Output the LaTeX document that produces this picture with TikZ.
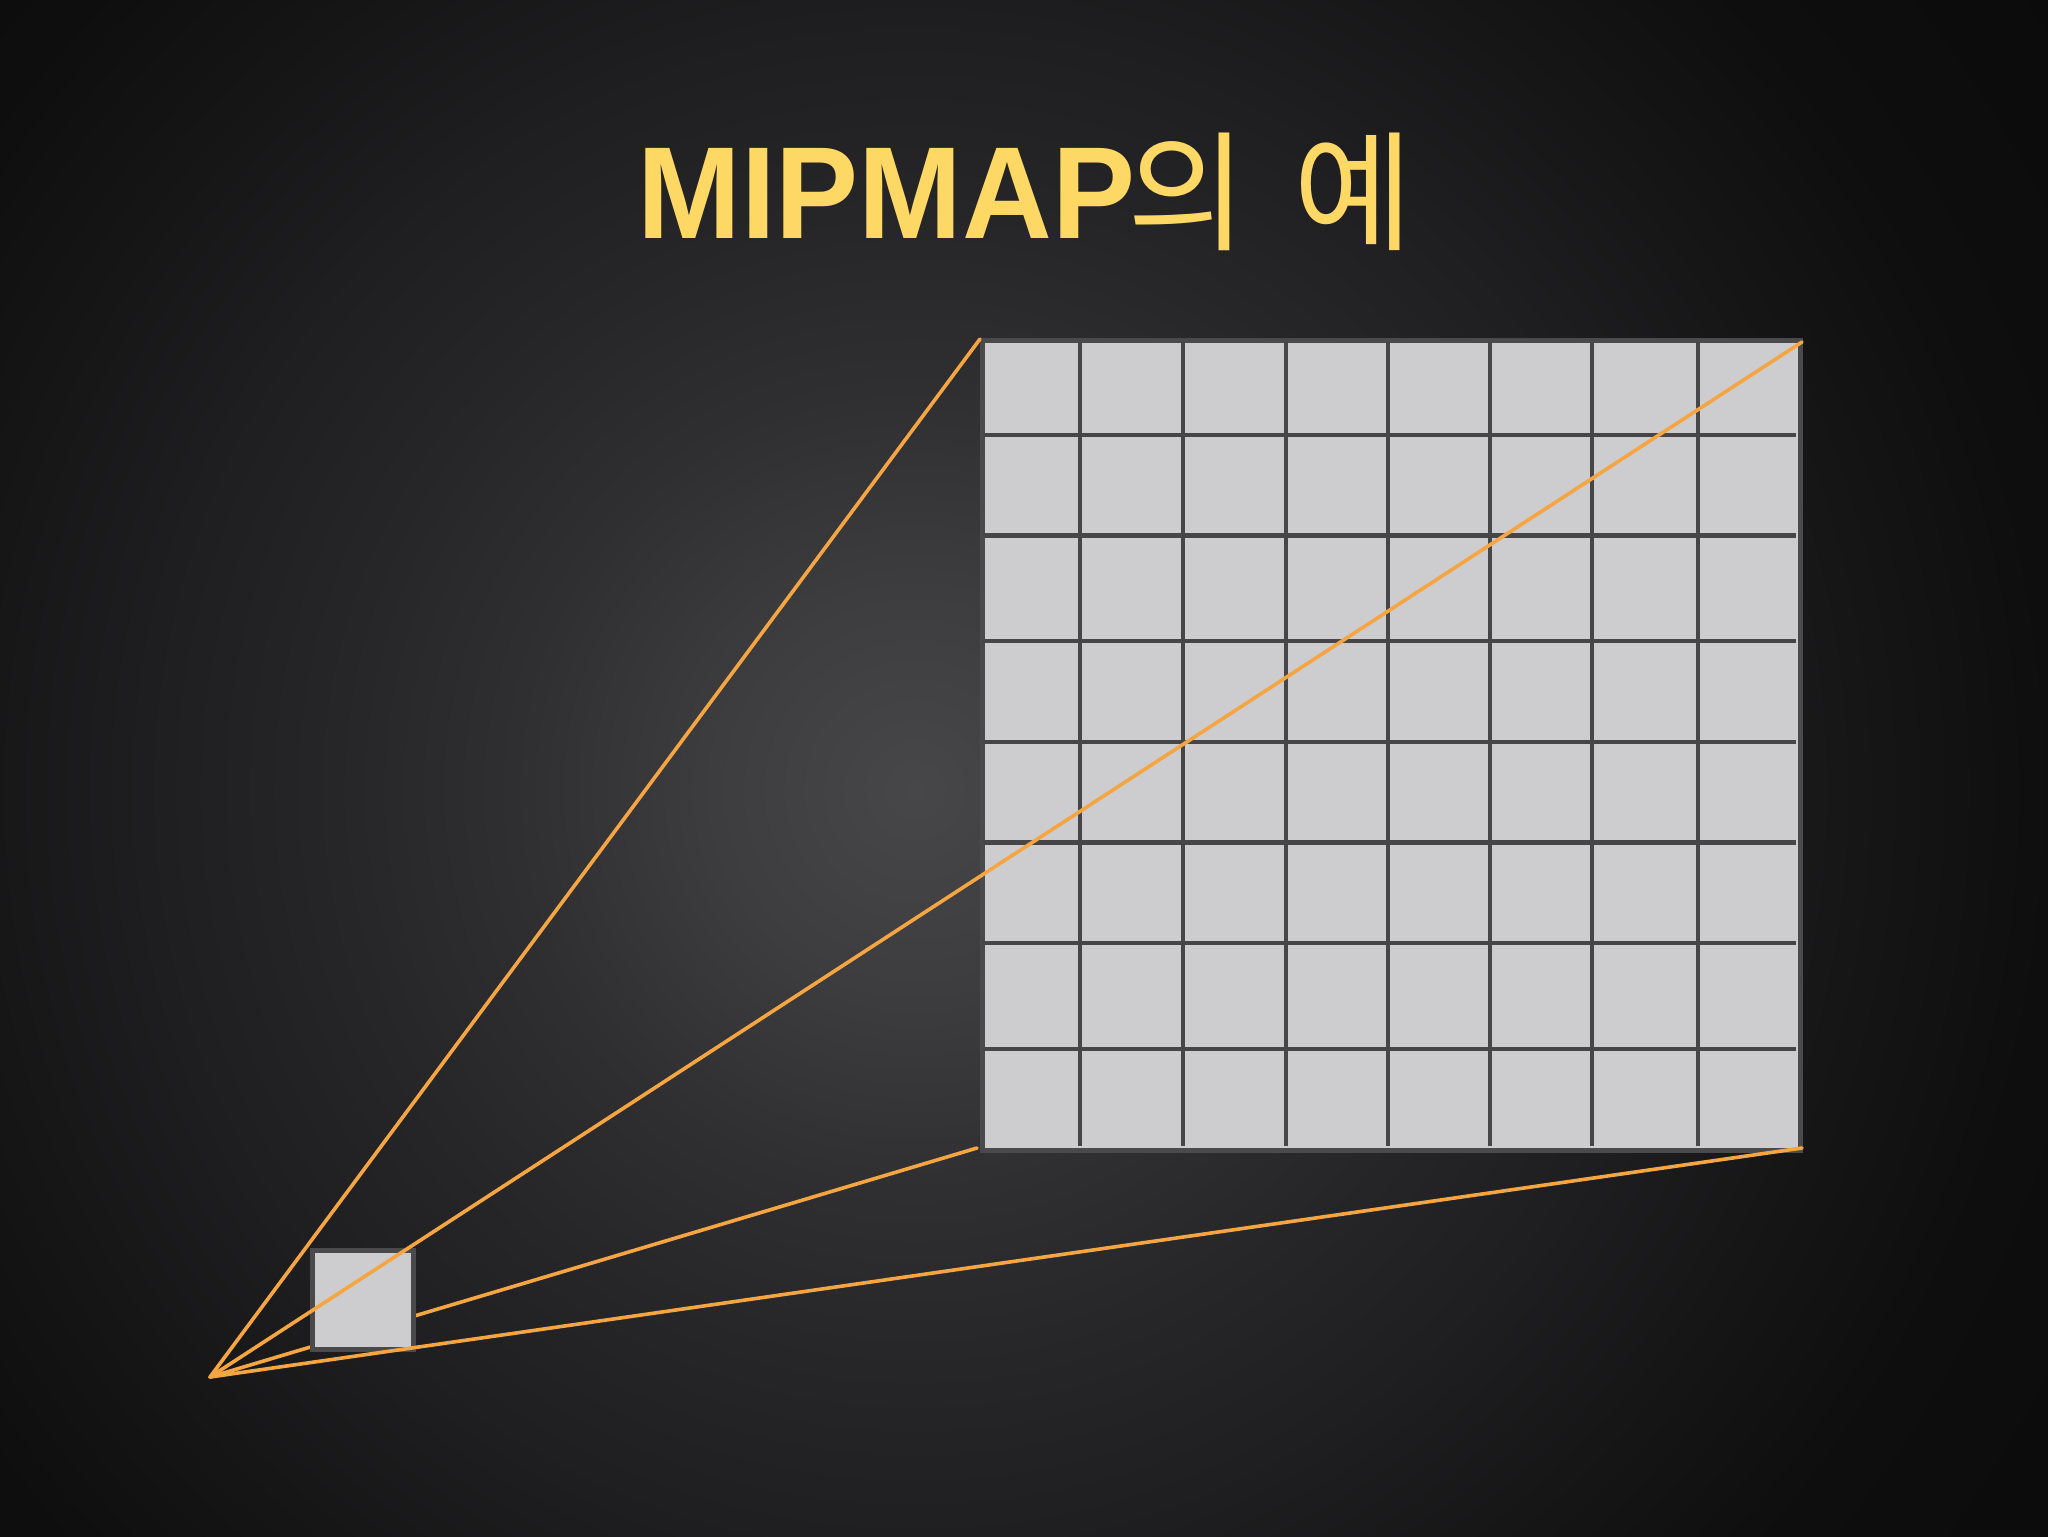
\documentclass[tikz,border=0pt]{standalone}
\usepackage{fontspec}
\newfontfamily\titlefont{Liberation Sans}[FakeStretch=0.95]
\newfontfamily\cjk{Noto Sans CJK KR}
\definecolor{bgcorner}{HTML}{0B0B0B}
\definecolor{titleyellow}{HTML}{FDD865}
\definecolor{rayorange}{HTML}{F5A642}
\definecolor{cellgray}{HTML}{CDCCCF}
\definecolor{gridline}{HTML}{464649}
\definecolor{borderline}{HTML}{4A4A4D}
\definecolor{bgA}{HTML}{474648}
\definecolor{bgB}{HTML}{3D3C3F}
\definecolor{bgC}{HTML}{2F2E30}
\definecolor{bgD}{HTML}{262527}
\definecolor{bgE}{HTML}{1F1E20}
\definecolor{bgF}{HTML}{161617}
\definecolor{bgG}{HTML}{0E0E0E}
\pgfdeclareradialshading{bgshade}{\pgfpointorigin}{%
  color(0bp)=(bgA); color(100bp)=(bgB); color(200bp)=(bgC);
  color(289bp)=(bgD); color(374bp)=(bgE); color(470bp)=(bgF);
  color(568bp)=(bgG); color(700bp)=(bgcorner)}
\tikzset{
  ray/.style={draw=rayorange, line width=1.8pt, line cap=round},
  cellbox/.style={draw=borderline, fill=cellgray, line width=2.5pt},
  gridrule/.style={draw=gridline, line width=2.4pt},
  titletext/.style={text=titleyellow, inner sep=0pt},
  hangul/.style={text=titleyellow, inner sep=0pt, anchor=center,
    font=\fontsize{65pt}{68pt}\selectfont\cjk}
}
\begin{document}
\begin{tikzpicture}[x=0.5pt, y=-0.5pt]
\useasboundingbox (0,0) rectangle (2048,1536);
\fill[bgcorner] (0,0) rectangle (2048,1536);
\begin{scope}
  \clip (0,0) rectangle (2048,1536);
  \node[inner sep=0pt] (glow) at (915,790) {\pgfuseshading{bgshade}};
\end{scope}

% title
\node[titletext, anchor=base west] (title) at (637,238)
  {\fontsize{65.5pt}{70pt}\selectfont\titlefont\bfseries MIPMAP};
\node[hangul] (titleA) at (1187,191.5) {의};
\node[hangul] (titleB) at (1353,191.5) {예};

% big texture grid
\node[cellbox, minimum width=409pt, minimum height=405pt, inner sep=0pt, anchor=north west] (grid) at (979.5,337.5) {};
\foreach \x in {1080,1183,1286,1388,1490,1592,1698}
  \draw[gridrule] (\x,342) -- (\x,1146);
\foreach \y in {435,535.5,641,742,842.5,943,1049}
  \draw[gridrule] (983,\y) -- (1796,\y);

% corner coordinates
\coordinate (apex) at (210,1377);
\coordinate (gtl) at (980,339);
\coordinate (gtr) at (1802,342);
\coordinate (gbl) at (977,1148);
\coordinate (gbr) at (1802,1148);

% ray hidden behind the small square
\draw[ray] (apex) -- (gbl);

% small texture square
\node[cellbox, minimum width=50.5pt, minimum height=49.5pt, inner sep=0pt, anchor=north west] (small) at (309.5,1248) {};

% remaining rays
\draw[ray] (apex) -- (gtl);
\draw[ray] (apex) -- (gtr);
\draw[ray] (apex) -- (gbr);
\end{tikzpicture}
\end{document}
